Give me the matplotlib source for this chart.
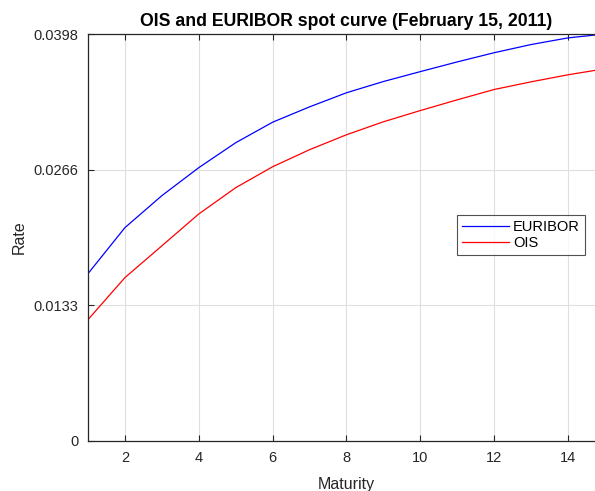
import matplotlib
matplotlib.use("Agg")
import matplotlib.pyplot as plt
import numpy as np

maturity = [1, 2, 3, 4, 5, 6, 7, 8, 9, 10, 11, 12, 13, 14, 15]
euribor = [0.01638, 0.02088, 0.02401, 0.02675, 0.02919, 0.03120, 0.03270, 0.03408,
           0.03518, 0.03615, 0.03710, 0.03800, 0.03880, 0.03945, 0.03983]
ois = [0.01188, 0.01599, 0.01910, 0.02222, 0.02479, 0.02684, 0.02851, 0.02997,
       0.03124, 0.03234, 0.03339, 0.03440, 0.03515, 0.03584, 0.03643]
xticks = [2, 4, 6, 8, 10, 12, 14]
title = "OIS and EURIBOR spot curve (February 15, 2011)"

plt.rcParams['font.family'] = ['Liberation Sans', 'DejaVu Sans']
fig = plt.figure(figsize=(5.95, 4.91), dpi=100)
W, H = 595, 491
ax = fig.add_axes([88 / W, 1 - 441 / H, (605 - 88) / W, (441 - 34) / H])

dark = '#262626'
ax.plot(maturity, euribor, color='#0000ff', lw=0.9, label='EURIBOR')
ax.plot(maturity, ois, color='#ff0000', lw=0.9, label='OIS')

ymax = max(euribor)
ax.set_xlim(1, 15)
ax.set_ylim(0, ymax)
ax.set_xticks(xticks)
yt = np.linspace(0, ymax, 4)
ax.set_yticks(yt)
ax.set_yticklabels(['0'] + ['%.4f' % v for v in yt[1:]])
ax.grid(True, color='#dfdfdf', lw=0.8)
ax.set_axisbelow(True)
ax.tick_params(direction='in', length=4, width=0.8, colors=dark, labelsize=10.5,
               top=True, right=True, pad=7)
for s in ax.spines.values():
    s.set_color(dark)
    s.set_linewidth(0.9)

ax.set_xlabel('Maturity', fontsize=11.5, color=dark, labelpad=9)
ax.set_ylabel('Rate', fontsize=11.5, color=dark, labelpad=5)
ax.set_title(title, fontsize=12.7, fontweight='bold', color='black', pad=6)

leg = ax.legend(loc='upper left', bbox_to_anchor=(457 / W, 1 - 215 / H),
                bbox_transform=fig.transFigure, borderaxespad=0, fontsize=10.5,
                frameon=True, fancybox=False, handlelength=3.2, handletextpad=0.3,
                labelspacing=0.15, borderpad=0.35)
leg.get_frame().set_edgecolor(dark)
leg.get_frame().set_linewidth(0.8)

fig.savefig('out.png', dpi=100)
